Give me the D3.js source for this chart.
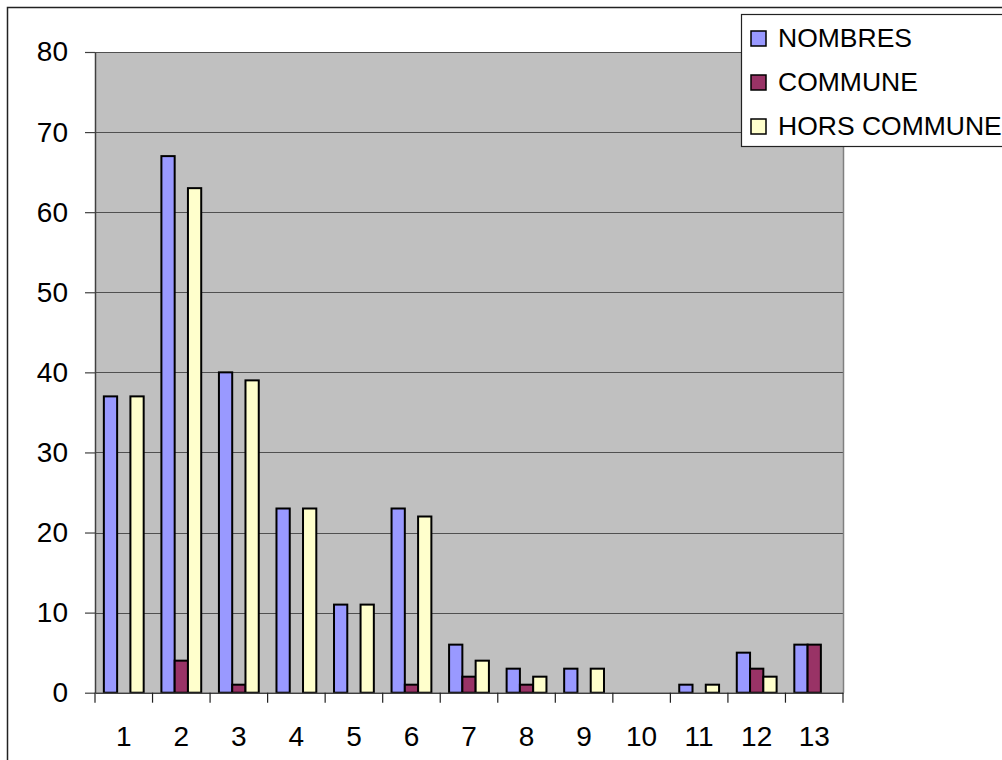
<!DOCTYPE html>
<html>
<head>
<meta charset="utf-8">
<script src="https://cdn.jsdelivr.net/npm/d3@7"></script>
<style>
  html, body { margin: 0; padding: 0; background: #fff; overflow: hidden; }
  svg { display: block; font-family: "Liberation Sans", Arial, sans-serif; }
</style>
</head>
<body>
<div id="chart"></div>
<script>
// Data
const categories = ["1", "2", "3", "4", "5", "6", "7", "8", "9", "10", "11", "12", "13"];
const seriesNames = ["NOMBRES", "COMMUNE", "HORS COMMUNE"];
const nombres = [37, 67, 40, 23, 11, 23, 6, 3, 3, 0, 1, 5, 6];
const commune = [0, 4, 1, 0, 0, 1, 2, 1, 0, 0, 0, 3, 6];
const horsCommune = [37, 63, 39, 23, 11, 22, 4, 2, 3, 0, 1, 2, 0];
const yTicks = [0, 10, 20, 30, 40, 50, 60, 70, 80];
const colors = ["#9999ff", "#993366", "#ffffcc"];

const width = 1002, height = 760;
const plot = { left: 95, right: 843, top: 52, bottom: 692.7 };

const svg = d3.select("#chart").append("svg")
    .attr("width", width)
    .attr("height", height);

// outer chart frame
svg.append("rect")
    .attr("x", 7.5).attr("y", 7.5)
    .attr("width", width + 20).attr("height", height + 20)
    .attr("fill", "#fff")
    .attr("stroke", "#222")
    .attr("stroke-width", 1.5);

// scales
const x = d3.scaleBand()
    .domain(categories)
    .range([plot.left, plot.right])
    .paddingInner(0).paddingOuter(0);

const xs = d3.scaleBand()
    .domain(seriesNames)
    .range([0, x.bandwidth()])
    .paddingInner(0)
    .paddingOuter(0.667);

const y = d3.scaleLinear()
    .domain([0, 80])
    .range([plot.bottom, plot.top]);

// plot background
svg.append("rect")
    .attr("x", plot.left).attr("y", plot.top)
    .attr("width", plot.right - plot.left)
    .attr("height", plot.bottom - plot.top)
    .attr("fill", "#c0c0c0");

// gridlines
svg.append("g")
    .selectAll("line")
    .data(yTicks.filter(d => d > 0))
    .join("line")
    .attr("x1", plot.left).attr("x2", plot.right)
    .attr("y1", d => Math.round(y(d)) + 0.5)
    .attr("y2", d => Math.round(y(d)) + 0.5)
    .attr("stroke", "#505050")
    .attr("stroke-width", 1.2);

// plot right edge
svg.append("line")
    .attr("x1", plot.right + 0.5).attr("x2", plot.right + 0.5)
    .attr("y1", plot.top).attr("y2", plot.bottom)
    .attr("stroke", "#808080").attr("stroke-width", 1.5);

// bars
const table = categories.map((c, i) => ({
    cat: c,
    values: [nombres[i], commune[i], horsCommune[i]]
}));

const groups = svg.append("g")
    .selectAll("g")
    .data(table)
    .join("g")
    .attr("transform", d => `translate(${x(d.cat)},0)`);

groups.selectAll("rect")
    .data(d => d.values.map((v, j) => ({ name: seriesNames[j], value: v, j })))
    .join("rect")
    .filter(d => d.value > 0)
    .attr("x", d => xs(d.name))
    .attr("y", d => y(d.value))
    .attr("width", xs.bandwidth())
    .attr("height", d => y(0) - y(d.value))
    .attr("fill", d => colors[d.j])
    .attr("stroke", "#000")
    .attr("stroke-width", 2);

// y axis
const yAxis = svg.append("g")
    .attr("transform", `translate(${plot.left},0)`)
    .call(d3.axisLeft(y).tickValues(yTicks).tickSize(10).tickPadding(17).tickSizeOuter(0));
yAxis.select(".domain").attr("stroke", "#404040").attr("stroke-width", 1.5);
yAxis.selectAll(".tick line").attr("stroke", "#404040").attr("stroke-width", 1.2);
yAxis.selectAll("text")
    .attr("font-size", "28px")
    .attr("fill", "#000")
    .style("font-family", "'Liberation Sans', Arial, sans-serif");

// x axis
const xAxis = svg.append("g")
    .attr("transform", `translate(0,${plot.bottom})`)
    .call(d3.axisBottom(x).tickSize(0).tickPadding(33));
xAxis.select(".domain").attr("stroke", "#404040").attr("stroke-width", 1.5);
xAxis.selectAll("text")
    .attr("font-size", "28px")
    .attr("fill", "#000")
    .style("font-family", "'Liberation Sans', Arial, sans-serif");

// category separator ticks on the x axis
svg.append("g")
    .selectAll("line")
    .data(categories.concat(["end"]))
    .join("line")
    .attr("x1", d => d === "end" ? plot.right : x(d))
    .attr("x2", d => d === "end" ? plot.right : x(d))
    .attr("y1", plot.bottom)
    .attr("y2", plot.bottom + 10)
    .attr("stroke", "#202020")
    .attr("stroke-width", 1.2);

// legend
const legend = svg.append("g");
legend.append("rect")
    .attr("x", 741.5).attr("y", 14.5)
    .attr("width", 300).attr("height", 132)
    .attr("fill", "#fff")
    .attr("stroke", "#222")
    .attr("stroke-width", 1.2);

const rows = legend.selectAll("g.row")
    .data(seriesNames)
    .join("g")
    .attr("class", "row")
    .attr("transform", (d, i) => `translate(751,${47 + i * 44})`);

rows.append("rect")
    .attr("x", 0).attr("y", -16)
    .attr("width", 15).attr("height", 15)
    .attr("fill", (d, i) => colors[i])
    .attr("stroke", "#000")
    .attr("stroke-width", 1.5);

rows.append("text")
    .attr("x", 27)
    .attr("y", 0)
    .attr("font-size", "26.5px")
    .attr("fill", "#000")
    .text(d => d);
</script>
</body>
</html>
